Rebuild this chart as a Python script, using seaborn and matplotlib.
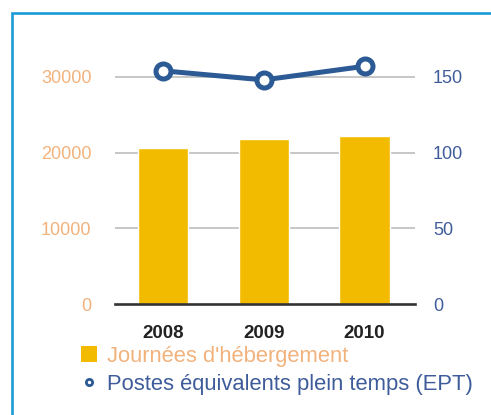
import matplotlib
matplotlib.use("Agg")
import matplotlib.pyplot as plt
import seaborn as sns
import pandas as pd
from matplotlib.patches import Rectangle, Patch
from matplotlib.lines import Line2D

years = ["2008", "2009", "2010"]
journees = [20600, 21800, 22200]
ept = [154, 148, 157]
left_ticks = [0, 10000, 20000, 30000]
right_ticks = [0, 50, 100, 150]
label_bar = "Journées d'hébergement"
label_line = "Postes équivalents plein temps (EPT)"

sns.set_theme(style="white")
plt.rcParams["font.family"] = ["Liberation Sans", "DejaVu Sans"]

BAR = "#f3bb00"
LINE = "#2c5a94"
ORANGE_TXT = "#f2b27c"
BLUE_TXT = "#3f5c9a"

df = pd.DataFrame({"year": years, "journees": journees, "ept": ept})

fig = plt.figure(figsize=(4.91, 4.15), dpi=100)
fig.patch.set_facecolor("white")
ax = fig.add_axes([115/491, (415-304)/415, 300/491, 257.4/415])
ax.set_facecolor("none")

sns.barplot(data=df, x="year", y="journees", ax=ax, color=BAR, width=0.5,
            saturation=1, zorder=2)
ax.set_ylim(0, 34000)
ax.set_yticks(left_ticks)
ax.set_yticklabels([str(t) for t in left_ticks])
for t in left_ticks[1:]:
    ax.axhline(t, color="#b8b8b8", lw=1.1, zorder=1)
ax.tick_params(axis="y", length=0, pad=17, labelsize=13, labelcolor=ORANGE_TXT)
ax.tick_params(axis="x", length=0, pad=15, labelsize=13.5, labelcolor="#222222")
for lab in ax.get_xticklabels():
    lab.set_fontweight("bold")
ax.set_xlabel("")
ax.set_ylabel("")
for s in ["top", "left", "right"]:
    ax.spines[s].set_visible(False)
ax.spines["bottom"].set_color("#333333")
ax.spines["bottom"].set_linewidth(1.9)
ax.spines["bottom"].set_zorder(3)

ax2 = ax.twinx()
sns.pointplot(data=df, x="year", y="ept", ax=ax2, color=LINE, markers="o",
              linewidth=3.6, markersize=10.8, markeredgewidth=3.6,
              markerfacecolor="white", markeredgecolor=LINE, errorbar=None)
for ln in ax2.lines:
    ln.set_clip_on(False)
    ln.set_markerfacecolor("white")
ax2.set_ylim(0, 170)
ax2.set_yticks(right_ticks)
ax2.set_yticklabels([str(t) for t in right_ticks])
ax2.tick_params(axis="y", length=0, pad=13, labelsize=13, labelcolor=BLUE_TXT)
ax2.set_ylabel("")
ax2.set_xlabel("")
for s in ["top", "left", "right", "bottom"]:
    ax2.spines[s].set_visible(False)
ax.set_xlim(-0.477, 2.5)

handles = [
    Patch(facecolor=BAR, edgecolor="none"),
    Line2D([], [], marker="o", color=LINE, linestyle="none", markersize=4.5,
           markerfacecolor="white", markeredgewidth=2.0),
]
leg = fig.legend(handles, [label_bar, label_line], loc="upper left",
                 bbox_to_anchor=(81/491, 1 - 346/415), frameon=False,
                 fontsize=15.8, handlelength=0.75, handleheight=0.75,
                 handletextpad=0.45, labelspacing=0.32, borderpad=0,
                 borderaxespad=0)
leg.get_texts()[0].set_color(ORANGE_TXT)
leg.get_texts()[1].set_color(BLUE_TXT)

fig.patches.append(Rectangle((12/491, -0.2), 1.5, 1.2 - 13/415,
                             transform=fig.transFigure, fill=False,
                             edgecolor="#1b9ad6", lw=1.9, zorder=10))

fig.savefig("out.png", dpi=100)
